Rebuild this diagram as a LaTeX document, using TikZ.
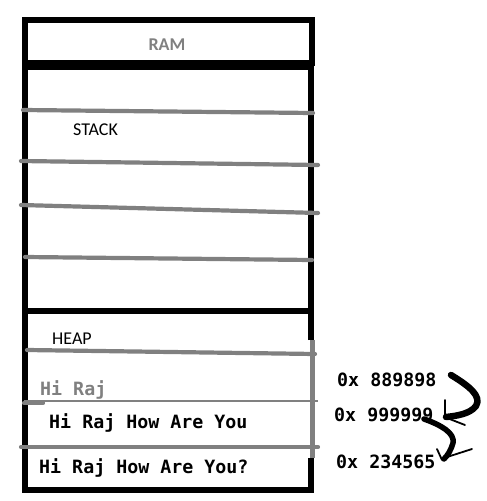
\documentclass[tikz,border=0pt]{standalone}
\usepackage{fontspec}
\newfontfamily\calfont{Carlito}
\newfontfamily\monofont{DejaVu Sans Mono}
\definecolor{lgray}{HTML}{808080}
\tikzset{
  frame/.style={line width=6pt, draw=black},
  sep/.style={line width=4.2pt, draw=lgray, line cap=round},
  thinsep/.style={line width=1.4pt, draw=lgray},
  lbl/.style={font=\calfont\fontsize{18}{20}\selectfont, inner sep=0pt, anchor=base west},
  mono/.style={font=\monofont\bfseries\fontsize{18.3}{20}\selectfont, inner sep=0pt, anchor=base west},
  bigarrow/.style={line width=6.5pt, line cap=round, line join=round},
  headline/.style={line width=1.8pt, line cap=round}
}
\begin{document}
\begin{tikzpicture}[x=1pt,y=-1pt]
\useasboundingbox[fill=white] (0,0) rectangle (487,501);
% RAM box
\draw[frame] (24.5,20) rectangle (311.5,63);
\node[lbl, anchor=base, text=lgray, font=\calfont\bfseries\fontsize{18}{20}\selectfont] (ram) at (167,50) {RAM};
% main box
\draw[frame] (311,340) -- (311,67) -- (24.5,67) -- (24.5,490) -- (311,490) -- (311,458);
\draw[frame] (24.5,311) -- (311,311);
% stack lines
\draw[sep] (23,110) -- (313,113);
\draw[sep] (21,161) -- (318,165);
\draw[sep] (21,205) -- (318,213);
\draw[sep] (25,257) -- (312,260);
\node[lbl] (stack) at (73,135) {STACK};
% heap
\node[lbl] (heap) at (52,344) {HEAP};
\draw[sep] (27,350) -- (315,354);
\draw[line width=5.5pt, draw=lgray] (312.5,340) -- (312.5,458);
\draw[thinsep] (24,401) -- (318,401);
\draw[sep] (24,403) -- (43,403);
\draw[sep] (21,447) -- (318,447);
\node[mono, text=lgray] (s1) at (40,395) {Hi Raj};
\node[mono] (s2) at (49,428) {Hi Raj How Are You};
\node[mono] (s3) at (39,473) {Hi Raj How Are You?};
% addresses
\node[mono] (a1) at (337,386) {0x 889898};
\node[mono] (a2) at (334,421) {0x 999999};
\node[mono] (a3) at (336,468) {0x 234565};
% arrows
\draw[bigarrow] (451,375) .. controls (469,386) and (482,396) .. (476,406) .. controls (470,414) and (456,416) .. (446,417);
\draw[headline] (445,417) -- (445,400);
\draw[headline] (447,418) -- (465,425);
\draw[bigarrow, line width=5.5pt] (424,419) .. controls (441,425) and (455,433) .. (453,443) .. controls (451,450) and (448,455) .. (444,459);
\draw[headline] (442,460) -- (437,449);
\draw[headline] (444,458) -- (472,449);
\end{tikzpicture}
\end{document}
